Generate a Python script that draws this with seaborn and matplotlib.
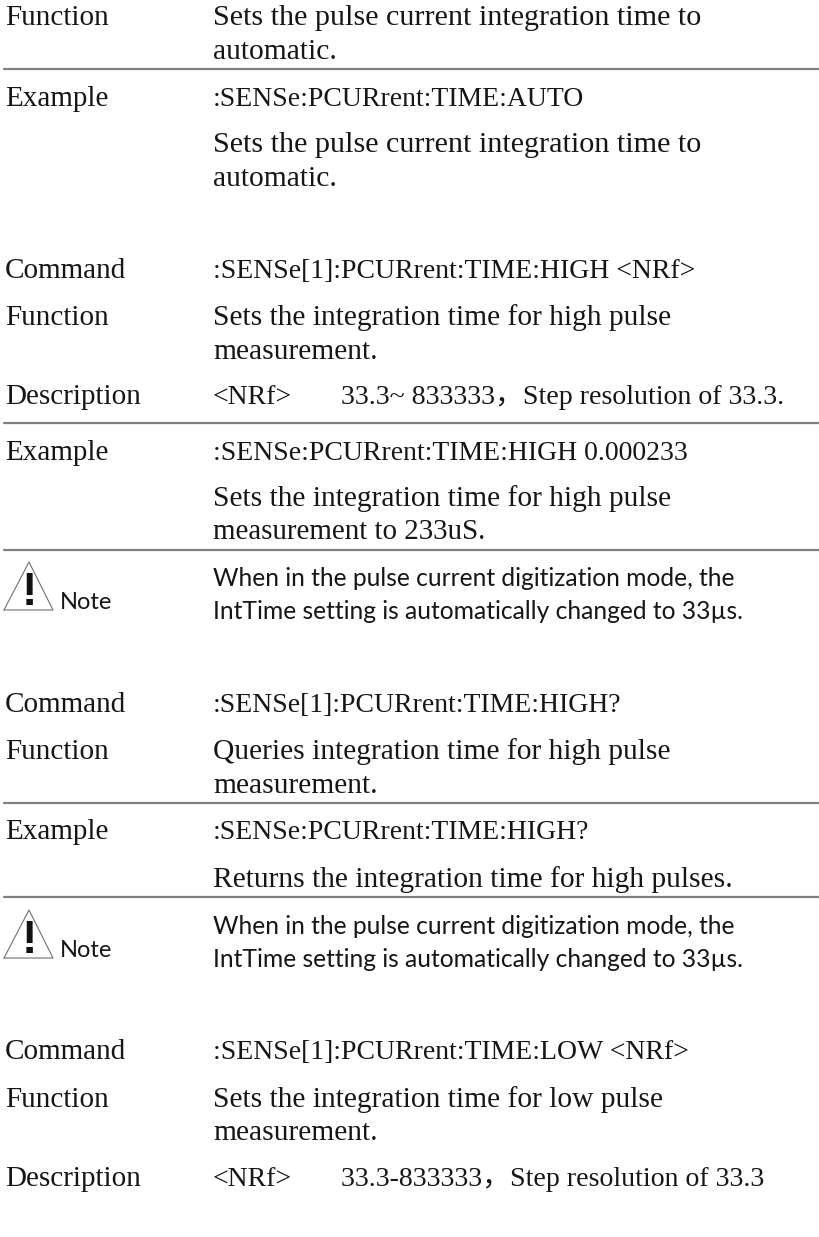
import matplotlib
matplotlib.use("Agg")
import matplotlib.pyplot as plt
import pandas as pd
import seaborn as sns

# Page text, top to bottom
left_labels = ["Function", "Example", "Command", "Function", "Description", "Example",
               "Command", "Function", "Example", "Command", "Function", "Description"]
prose_lines = [
    "Sets the pulse current integration time to",
    "automatic.",
    "Sets the pulse current integration time to",
    "automatic.",
    "Sets the integration time for high pulse",
    "measurement.",
    "Sets the integration time for high pulse",
    "measurement to 233uS.",
    "Queries integration time for high pulse",
    "measurement.",
    "Returns the integration time for high pulses.",
    "Sets the integration time for low pulse",
    "measurement.",
]
command_lines = [
    ":SENSe:PCURrent:TIME:AUTO",
    ":SENSe[1]:PCURrent:TIME:HIGH <NRf>",
    "<NRf>",
    ":SENSe:PCURrent:TIME:HIGH 0.000233",
    ":SENSe[1]:PCURrent:TIME:HIGH?",
    ":SENSe:PCURrent:TIME:HIGH?",
    ":SENSe[1]:PCURrent:TIME:LOW <NRf>",
    "<NRf>",
]
range_lines = ["33.3~ 833333，Step resolution of 33.3.", "33.3-833333，Step resolution of 33.3"]
note_lines = ["When in the pulse current digitization mode, the",
              "IntTime setting is automatically changed to 33µs."]

# Where things sit on the page, in pixels from the top
left_y = [25, 106, 278, 325, 404, 460, 712, 759, 839, 1059, 1107, 1186]
prose_y = [25, 59, 152, 186, 325, 359, 506, 539, 759, 793, 887, 1107, 1140]
command_y = [106, 278, 404, 460, 712, 839, 1059, 1186]
range_y = [404, 1186]
note_y = [[586, 619], [934, 967]]
note_base = [610, 958]
rule_y = [69, 423, 550, 803, 897]

# Liberation Serif runs a bit different from the page font, so some lines get their own size
prose_sizes = [21.7, 21.25, 21.7, 21.25, 21.25, 21.25, 21.25, 20.9, 21.25, 21.25, 21.25, 21.25, 21.25]

sns.set_theme(style="white")
plt.rcParams["font.family"] = ["Liberation Serif", "Noto Sans CJK SC"]

fig = plt.figure(figsize=(8.19, 12.37), dpi=100, facecolor="white")
ax = fig.add_axes([0, 0, 1, 1])

# Rules between table rows
rules = pd.DataFrame({
    "x": [4, 819] * len(rule_y),
    "y": [y for y in rule_y for _ in (0, 1)],
    "rule": [i for i in range(len(rule_y)) for _ in (0, 1)],
})
sns.lineplot(data=rules, x="x", y="y", units="rule", estimator=None, color="#808080",
             linewidth=1.6, ax=ax, legend=False)
ax.set_xlim(0, 819)
ax.set_ylim(1237, 0)
ax.axis("off")

text_color = "#161616"
for s, y in zip(left_labels, left_y):
    ax.text(5, y, s, fontsize=21.0, color=text_color, va="baseline")
for s, y, size in zip(prose_lines, prose_y, prose_sizes):
    ax.text(213, y, s, fontsize=size, color=text_color, va="baseline")
for s, y in zip(command_lines, command_y):
    ax.text(213, y, s, fontsize=20.0, color=text_color, va="baseline")
for s, y in zip(range_lines, range_y):
    ax.text(341, y, s, fontsize=20.1, color=text_color, va="baseline")

# Caution notes: triangle, "!" and sans text
for ys, base in zip(note_y, note_base):
    ax.plot([4, 29, 53, 4], [base, base - 48, base, base], color="#707070", lw=0.8)
    ax.text(29, base - 5, "!", fontsize=33, family="Liberation Sans", weight="bold",
            color="#111111", ha="center", va="baseline")
    ax.text(60, base - 1, "Note", fontsize=17, family="Lato", color=text_color, va="baseline")
    for s, y in zip(note_lines, ys):
        ax.text(213, y, s, fontsize=17.75, family="Lato", color=text_color, va="baseline")

fig.savefig("out.png", dpi=100)
